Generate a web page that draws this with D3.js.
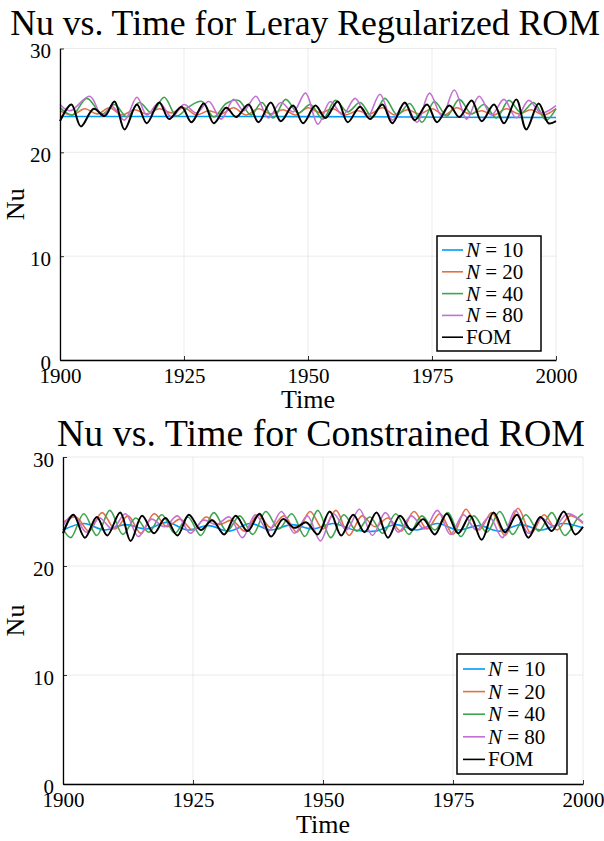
<!DOCTYPE html>
<html><head><meta charset="utf-8">
<script src="https://cdn.jsdelivr.net/npm/d3@7"></script>
<style>body{margin:0;background:#fff}svg{display:block}text{font-family:"Liberation Serif","Times New Roman",serif;fill:#000}</style>
</head><body><svg id="c" width="604" height="841"></svg>
<script>
// ---------- data ----------
const seriesNames = ["N = 10", "N = 20", "N = 40", "N = 80", "FOM"];
const seriesColors = ["#009AFA", "#E36F47", "#3EA44E", "#C371D2", "#000000"];
const xTicks = [1900, 1925, 1950, 1975, 2000];
const yTicks = [0, 10, 20, 30];
const titles = ["Nu vs. Time for Leray Regularized ROM", "Nu vs. Time for Constrained ROM"];

// Top panel (Leray regularized)
const lerayN10T = [1900, 1920, 1940, 1960, 1980, 2000];
const lerayN10V = [23.45, 23.45, 23.45, 23.42, 23.38, 23.36];
const lerayN20T = [1900,1902.5,1905,1907.5,1910,1912.5,1915,1917.5,1920,1922.5,1925,1927.5,1930,1932.5,1935,1937.5,1940,1942.5,1945,1947.5,1950,1952.5,1955,1957.5,1960,1962.5,1965,1967.5,1970,1972.5,1975,1977.5,1980,1982.5,1985,1987.5,1990,1992.5,1995,1997.5,2000];
const lerayN20V = [24.0,23.6,24.2,23.7,24.3,23.6,24.1,23.7,24.2,23.8,24.3,23.6,24.0,23.7,24.3,23.6,24.2,23.7,24.1,23.6,24.3,23.8,24.2,23.6,24.0,23.7,24.3,23.6,24.1,23.7,24.2,23.6,24.3,23.7,24.0,23.6,24.2,23.7,24.1,23.6,24.2];
const lerayN40T = [1900,1902.5,1905.4,1908.5,1911,1913.5,1916,1918.5,1921,1923.5,1926,1928.6,1931,1933.5,1936,1938.5,1940.7,1943,1945.5,1948,1950.5,1953,1955.5,1958,1960.5,1963,1965.5,1968,1970.5,1973,1975.5,1978,1980.5,1983,1985.5,1988,1990.5,1993,1995.5,1998,2000];
const lerayN40V = [24.3,23.6,25.2,23.7,24.6,23.4,24.8,23.8,25.3,23.5,24.4,24.9,23.4,24.7,25.0,23.6,24.8,23.3,25.1,23.8,24.6,23.2,25.0,23.9,24.8,23.4,25.2,23.6,24.7,22.9,24.9,23.5,25.1,23.7,24.6,23.3,25.0,23.8,24.8,23.1,24.2];
const lerayN80T = [1900,1902,1906,1908.5,1910.5,1913,1915.5,1917.5,1920,1922.5,1925,1927.5,1930,1932.5,1935,1937,1939.5,1942,1944.5,1947,1949.5,1952,1954.5,1957,1959.5,1962,1964.5,1967,1969.5,1972,1974.5,1977,1979.5,1982,1984.5,1987,1989.5,1992,1994.5,1997,2000];
const lerayN80V = [24.6,24.0,25.4,23.5,24.4,23.1,25.3,23.6,24.8,23.4,24.6,23.8,24.9,23.2,25.1,24.0,25.4,23.3,24.8,23.9,25.7,22.7,24.9,23.6,25.2,23.4,25.6,23.1,24.7,22.9,25.7,23.5,26.0,23.2,25.4,23.6,25.1,23.3,25.0,23.8,24.5];
const lerayFomT = [1900,1902.3,1904.2,1906.8,1909,1911,1913,1915.5,1917.5,1920,1922,1924.5,1926.5,1929,1931,1933.5,1935.5,1938,1940,1942.5,1944.5,1947,1949,1951.5,1953.5,1956,1958,1960.5,1962.5,1965,1967,1969.5,1971.5,1974,1976,1978.5,1980.5,1983,1985,1987.5,1989.5,1992,1994,1996.5,1998.5,2000];
const lerayFomV = [23.0,24.6,22.5,24.2,23.5,24.9,22.2,24.6,22.8,24.8,23.2,24.4,22.9,24.7,22.8,24.3,23.4,24.6,22.9,24.8,23.0,24.5,22.8,24.5,23.3,24.9,22.9,24.4,23.2,24.6,22.8,24.8,23.1,24.6,22.9,24.5,23.4,25.0,23.0,24.6,22.8,25.1,22.2,24.7,22.8,23.0];

// Bottom panel (constrained)
const consN10T = [1900,1904,1908,1912,1916,1920,1924,1928,1932,1936,1940,1944,1948,1952,1956,1960,1964,1968,1972,1976,1980,1984,1988,1992,1996,2000];
const consN10V = [23.3,23.9,23.3,23.8,23.4,24.0,23.3,23.7,23.2,23.9,23.3,23.8,23.4,23.9,23.3,23.2,23.8,23.3,23.9,23.3,23.7,23.2,23.8,23.3,23.9,23.5];
const consN20T = [1900,1902.5,1905,1907.5,1910,1912.5,1915,1917.5,1920,1922.5,1925,1927.5,1930,1932.5,1935,1937.5,1940,1942.5,1945,1947.5,1950,1952.5,1955,1957.5,1960,1962.5,1965,1967.5,1970,1972.5,1975,1977.5,1980,1982.5,1985,1987.5,1990,1992.5,1995,1997.5,2000];
const consN20V = [24.0,24.5,23.2,24.9,23.4,24.6,23.0,24.8,23.6,24.3,23.3,24.5,23.8,24.2,23.2,24.7,23.5,24.6,23.1,25.0,23.4,25.1,22.8,24.6,23.6,24.4,23.2,25.0,23.4,24.8,22.9,25.2,23.3,24.9,22.8,25.3,23.0,24.7,23.3,24.6,23.9];
const consN40T = [1900,1901.5,1904,1906.5,1909,1911.5,1914,1916.5,1919,1921.5,1924,1926.5,1929,1931.5,1934,1936.5,1939,1941.5,1944,1946.5,1949,1951.5,1954,1956.5,1959,1961.5,1964,1966.5,1969,1971.5,1974,1976.5,1979,1981.5,1984,1986.5,1989,1991.5,1994,1996.5,1999,2000];
const consN40V = [23.4,22.6,24.8,22.8,25.1,22.9,24.4,23.1,24.7,23.0,24.5,22.8,24.9,23.2,24.6,22.9,25.0,23.4,24.8,22.7,25.1,22.6,24.7,23.2,24.5,23.0,24.8,22.9,24.6,23.3,24.9,22.7,24.6,23.1,25.0,22.9,24.7,23.2,24.9,22.8,24.4,24.8];
const consN80T = [1900,1902,1904.5,1907,1909.5,1912,1914.5,1917,1919.5,1922,1924.5,1927,1929.5,1932,1934.5,1937,1939.5,1942,1944.5,1947,1949.5,1952,1954.5,1957,1959.5,1962,1964.5,1967,1969.5,1972,1974.5,1977,1979.5,1982,1984.5,1987,1989.5,1992,1994.5,1997,2000];
const consN80V = [23.7,24.7,23.1,24.4,23.4,24.8,22.7,24.3,23.6,24.6,23.0,24.2,23.8,24.5,22.6,24.7,23.2,25.0,23.0,24.6,22.3,24.8,23.3,25.2,22.8,24.9,23.1,24.6,23.4,25.1,22.9,24.7,23.3,24.5,22.6,25.1,23.0,24.4,23.6,24.8,24.0];
const consFomT = [1900,1902,1904.2,1906.5,1908.5,1911,1913,1915.2,1917.5,1919.7,1922,1924.2,1926.5,1928.7,1931,1933.2,1935.5,1937.8,1940,1942.3,1944.5,1946.8,1949,1951.3,1953.5,1955.8,1958,1960.3,1962.5,1964.8,1967,1969.3,1971.5,1973.8,1976,1978.3,1980.5,1982.8,1985,1987.3,1989.5,1991.8,1994,1996.3,1998.5,2000];
const consFomV = [23.0,24.7,22.6,24.5,22.8,24.9,22.3,24.6,23.0,24.4,22.8,24.7,23.3,24.2,22.9,24.6,23.2,24.8,22.7,24.3,23.5,24.0,22.9,25.0,22.8,24.7,23.1,24.9,22.6,24.6,23.3,24.3,22.9,24.8,23.0,24.6,22.4,24.9,23.1,24.7,22.6,24.5,23.2,25.0,22.9,23.6];

// ---------- drawing ----------
const svg = d3.select("#c");
const panels = [
  {title: titles[0], x0: 60, x1: 556, y0: 360, y1: 48.5, titleY: 35, titleCx: 305, titleW: 590,
   xLabY: 408, yLabX: 24, legend: {x: 437, y: 236, w: 104, h: 115, lx0: 442, lx1: 463, tx: 466, row0: 250, dy: 21.8},
   data: [[lerayN10T, lerayN10V],[lerayN20T, lerayN20V],[lerayN40T, lerayN40V],[lerayN80T, lerayN80V],[lerayFomT, lerayFomV]]},
  {title: titles[1], x0: 63, x1: 583, y0: 784, y1: 457, titleY: 446, titleCx: 321, titleW: 528,
   xLabY: 833, yLabX: 24, legend: {x: 457, y: 654, w: 110, h: 120, lx0: 463, lx1: 485, tx: 488, row0: 669, dy: 22.6},
   data: [[consN10T, consN10V],[consN20T, consN20V],[consN40T, consN40V],[consN80T, consN80V],[consFomT, consFomV]]}
];

function fitText(sel, target, start) {
  sel.style("font-size", start + "px");
  const w = sel.node().getComputedTextLength();
  sel.style("font-size", (start * target / w).toFixed(2) + "px");
}

panels.forEach(p => {
  const x = d3.scaleLinear().domain([1900, 2000]).range([p.x0, p.x1]);
  const y = d3.scaleLinear().domain([0, 30]).range([p.y0, p.y1]);
  const g = svg.append("g");
  // grid
  g.append("g").selectAll("line").data(xTicks).join("line")
    .attr("x1", d => x(d)).attr("x2", d => x(d)).attr("y1", p.y0).attr("y2", p.y1)
    .attr("stroke", "#000").attr("stroke-opacity", 0.1).attr("stroke-width", 0.8);
  g.append("g").selectAll("line").data(yTicks).join("line")
    .attr("x1", p.x0).attr("x2", p.x1).attr("y1", d => y(d)).attr("y2", d => y(d))
    .attr("stroke", "#000").attr("stroke-opacity", 0.1).attr("stroke-width", 0.8);
  // series
  const line = d3.line().x(d => x(d[0])).y(d => y(d[1])).curve(d3.curveCatmullRom.alpha(0.5));
  p.data.forEach((s, i) => {
    g.append("path").datum(d3.zip(s[0], s[1])).attr("d", line)
      .attr("fill", "none").attr("stroke", seriesColors[i])
      .attr("stroke-width", i === 4 ? 2 : 1.6).attr("stroke-linejoin", "round");
  });
  // axes
  const xa = g.append("g").attr("transform", `translate(0,${p.y0})`)
    .call(d3.axisBottom(x).tickValues(xTicks).tickFormat(d3.format("d")).tickSizeInner(-4).tickSizeOuter(0).tickPadding(8));
  const ya = g.append("g").attr("transform", `translate(${p.x0},0)`)
    .call(d3.axisLeft(y).tickValues(yTicks).tickSizeInner(-4).tickSizeOuter(0).tickPadding(9));
  [xa, ya].forEach(a => {
    a.select(".domain").attr("stroke", "#000").attr("stroke-width", 1.3);
    a.selectAll(".tick line").attr("stroke", "#000").attr("stroke-width", 0.8);
    a.selectAll("text").style("font-family", '"Liberation Serif",serif').style("font-size", "21px").attr("fill", "#000");
  });
  ya.selectAll("text").attr("dy", "0.45em");
  // title
  const t = svg.append("text").attr("x", p.titleCx).attr("y", p.titleY).attr("text-anchor", "middle").text(p.title);
  fitText(t, p.titleW, 36);
  // axis labels
  svg.append("text").attr("x", (p.x0 + p.x1) / 2).attr("y", p.xLabY).attr("text-anchor", "middle")
    .style("font-size", "26px").text("Time");
  svg.append("text").attr("transform", `translate(${p.yLabX},${(p.y0 + p.y1) / 2}) rotate(-90)`)
    .attr("text-anchor", "middle").style("font-size", "26px").text("Nu");
  // legend
  const L = p.legend;
  const lg = svg.append("g");
  lg.append("rect").attr("x", L.x).attr("y", L.y).attr("width", L.w).attr("height", L.h)
    .attr("fill", "#fff").attr("stroke", "#000").attr("stroke-width", 1.5);
  seriesNames.forEach((nm, i) => {
    const cy = L.row0 + i * L.dy;
    lg.append("line").attr("x1", L.lx0).attr("x2", L.lx1).attr("y1", cy).attr("y2", cy)
      .attr("stroke", seriesColors[i]).attr("stroke-width", 1.6);
    const tx = lg.append("text").attr("x", L.tx).attr("y", cy + 7).style("font-size", "21px");
    if (nm.startsWith("N")) {
      tx.append("tspan").style("font-style", "italic").text("N");
      tx.append("tspan").text("\u2005=\u2005" + nm.slice(4));
    } else {
      tx.text(nm);
    }
  });
});
</script></body></html>
